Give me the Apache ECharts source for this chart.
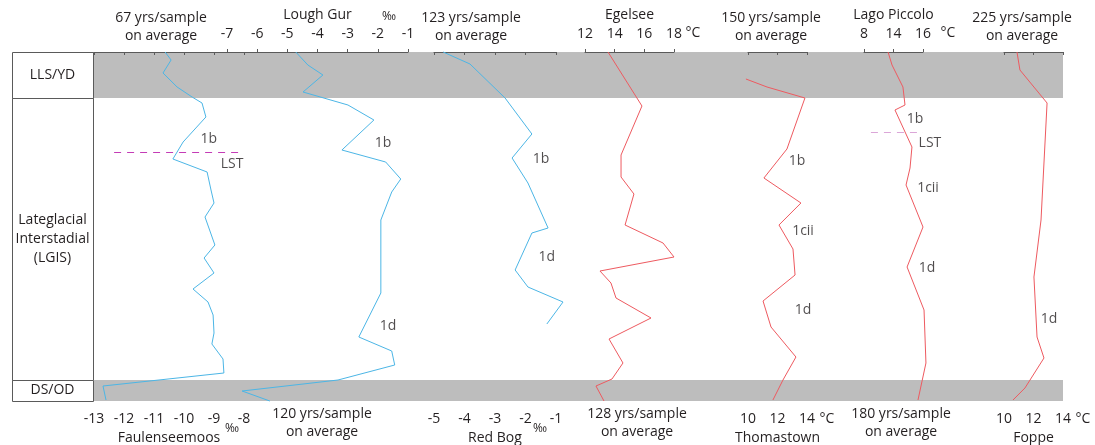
<!DOCTYPE html>
<html>
<head>
<meta charset="utf-8">
<script src="https://cdn.jsdelivr.net/npm/echarts@6/dist/echarts.min.js"></script>
<style>
  html, body { margin: 0; padding: 0; background: #fff; }
  #chart { width: 1095px; height: 445px; }
</style>
</head>
<body>
<div id="chart"></div>
<script>
// Relative depth scale shared by all profiles: 0 = top of LLS/YD, 349 = base of DS/OD
const depthMax = 349;

// Chronozones
const zoneNames = ['LLS/YD', 'Lateglacial\nInterstadial\n(LGIS)', 'DS/OD'];
const zoneFrom = [0, 46, 328];
const zoneTo = [46, 328, 349];
const zoneShaded = [true, false, true];

// Faulenseemoos (‰)
const faulenDepth = [0, 8, 21, 35, 45, 51, 65, 90, 107, 120, 138, 151, 165, 193, 206, 221, 237, 250, 263, 281, 292, 307, 321, 334, 348];
const faulenValue = [-10.63, -10.43, -10.70, -10.23, -9.73, -9.40, -9.27, -10.03, -10.37, -9.23, -9.10, -9.00, -9.30, -8.97, -9.33, -9.00, -9.70, -9.20, -9.03, -9.00, -9.07, -8.70, -8.67, -12.70, -12.60];

// Lough Gur (‰)
const loughDepth = [0, 13, 23, 40, 53, 68, 98, 110, 127, 140, 168, 241, 285, 299, 313, 328, 339, 349];
const loughValue = [-4.72, -4.32, -3.82, -4.48, -2.99, -2.13, -3.19, -1.74, -1.24, -1.54, -1.90, -1.90, -2.63, -1.54, -1.44, -3.32, -6.50, -5.58];

// Red Bog (‰)
const redBogDepth = [0, 12, 46, 82, 106, 131, 176, 181, 218, 235, 250, 272];
const redBogValue = [-4.70, -3.82, -2.67, -1.79, -2.44, -1.92, -1.26, -1.79, -2.34, -1.92, -0.77, -1.30];

// Egelsee (°C)
const egelDepth = [0, 54, 103, 125, 142, 173, 191, 205, 219, 231, 246, 266, 287, 311, 327, 334, 349];
const egelValue = [13.55, 15.84, 14.43, 14.43, 15.30, 14.70, 17.26, 18.00, 13.01, 13.75, 14.09, 16.45, 13.62, 14.56, 13.82, 12.74, 13.28];

// Thomastown (°C)
const thomDepth = [27, 35, 46, 97, 126, 151, 173, 197, 223, 249, 275, 305, 328, 348];
const thomValue = [9.86, 11.29, 13.86, 12.64, 11.08, 13.59, 12.10, 13.05, 13.19, 11.02, 11.56, 13.25, 12.37, 11.69];

// Lago Piccolo (°C)
const lagoDepth = [0, 13, 35, 53, 58, 95, 116, 133, 175, 215, 258, 311, 348];
const lagoValue = [13.63, 13.90, 14.64, 14.78, 14.10, 15.25, 15.12, 14.85, 16.00, 14.92, 16.07, 16.20, 15.66];
const lagoTickLabels = ['8', '14', '16'];

// Foppe (°C)
const foppeDepth = [0, 18, 51, 168, 225, 285, 306, 336, 348];
const foppeValue = [10.88, 11.08, 12.92, 12.51, 12.03, 12.24, 12.71, 11.42, 10.61];

// Zone annotations per profile: [text, value, depth]
const faulenNotes = [['1b', -9.17, 87], ['LST', -8.40, 112]];
const loughNotes = [['1b', -1.83, 91], ['1d', -1.66, 274]];
const redBogNotes = [['1b', -1.49, 107], ['1d', -1.30, 205]];
const thomNotes = [['1b', 13.32, 109], ['1cii', 13.73, 179], ['1d', 13.73, 258]];
const lagoNotes = [['1b', 15.46, 67], ['LST', 16.47, 91], ['1cii', 16.34, 136], ['1d', 16.27, 216]];
const foppeNotes = [['1d', 13.05, 267]];

// Laacher See Tephra horizons: [fromValue, toValue, depth]
const faulenLST = [-12.33, -8.03, 100];
const lagoLST = [12.47, 16.0, 80];

// Sampling resolution captions
const resolutionText = ['67 yrs/sample', '120 yrs/sample', '123 yrs/sample', '128 yrs/sample', '150 yrs/sample', '180 yrs/sample', '225 yrs/sample'];

const BLUE = '#4cb6e6';
const RED = '#ee5a60';
const TEXT = '#231f20';
const AXIS = '#5a5a5a';
const FONT = '"Open Sans", "Noto Sans", sans-serif';

const profiles = [
  { name: 'Faulenseemoos', depth: faulenDepth, value: faulenValue, notes: faulenNotes, lst: faulenLST, lstColor: '#c43cb6',
    color: BLUE, left: 94, width: 150, min: -13, max: -8, interval: 1, pos: 'bottom' },
  { name: 'Lough Gur', depth: loughDepth, value: loughValue, notes: loughNotes,
    color: BLUE, left: 227, width: 181, min: -7, max: -1, interval: 1, pos: 'top' },
  { name: 'Red Bog', depth: redBogDepth, value: redBogValue, notes: redBogNotes,
    color: BLUE, left: 434, width: 122, min: -5, max: -1, interval: 1, pos: 'bottom' },
  { name: 'Egelsee', depth: egelDepth, value: egelValue, notes: [],
    color: RED, left: 585, width: 89, min: 12, max: 18, interval: 2, pos: 'top' },
  { name: 'Thomastown', depth: thomDepth, value: thomValue, notes: thomNotes,
    color: RED, left: 748, width: 59, min: 10, max: 14, interval: 2, pos: 'bottom' },
  { name: 'Lago Piccolo', depth: lagoDepth, value: lagoValue, notes: lagoNotes, lst: lagoLST, lstColor: '#dba6d8',
    color: RED, left: 864, width: 59, min: 12, max: 16, interval: 2, pos: 'top',
    formatter: v => lagoTickLabels[Math.round((v - 12) / 2)] },
  { name: 'Foppe', depth: foppeDepth, value: foppeValue, notes: foppeNotes,
    color: RED, left: 1004, width: 59, min: 10, max: 14, interval: 2, pos: 'bottom' }
];

const PLOT_TOP = 52;
const PLOT_H = 349;

// Fixed-size grid boxes: axis labels must not shrink them
function makeGrid(left, width) {
  return { left: left, width: width, top: PLOT_TOP, height: PLOT_H, containLabel: false, outerBoundsMode: 'none' };
}

const grid = [makeGrid(12, 1051)];
const xAxis = [{ gridIndex: 0, type: 'value', min: 0, max: 1, show: false }];
const yAxis = [{ gridIndex: 0, type: 'value', min: 0, max: depthMax, inverse: true, show: false }];
const series = [];

// Zone boxes on the left and shaded stadial bands
series.push({
  type: 'custom',
  xAxisIndex: 0, yAxisIndex: 0,
  z: 0,
  silent: true,
  data: zoneNames.map((n, i) => [0, zoneFrom[i], zoneTo[i]]),
  renderItem: function (params, api) {
    const i = params.dataIndex;
    const cs = params.coordSys;
    const y0 = api.coord([0, zoneFrom[i]])[1];
    const y1 = api.coord([0, zoneTo[i]])[1];
    const boxW = 81;
    const children = [];
    if (zoneShaded[i]) {
      children.push({ type: 'rect', shape: { x: cs.x + boxW, y: y0, width: cs.width - boxW, height: y1 - y0 },
        style: { fill: '#bdbdbd' } });
    }
    children.push({ type: 'rect', shape: { x: cs.x + 0.5, y: Math.round(y0) + 0.5, width: boxW, height: y1 - y0 },
      style: { fill: 'none', stroke: AXIS, lineWidth: 1 } });
    children.push({ type: 'text', style: { text: zoneNames[i], x: cs.x + boxW / 2, y: (y0 + y1) / 2,
      align: 'center', verticalAlign: 'middle', fontSize: 14, fontFamily: FONT, lineHeight: 19, fill: TEXT } });
    return { type: 'group', children: children };
  }
});

profiles.forEach(p => {
  // Scale grid: carries the visible axis over the labelled range only
  const scaleIdx = grid.length;
  grid.push(makeGrid(p.left, p.width));
  xAxis.push({
    gridIndex: scaleIdx, type: 'value', position: p.pos, min: p.min, max: p.max, interval: p.interval,
    offset: p.pos === 'bottom' ? 3 : 4,
    name: p.name, nameLocation: 'middle', nameGap: p.pos === 'bottom' ? 26 : 25,
    nameTextStyle: { fontSize: 14, fontFamily: FONT, color: TEXT },
    splitLine: { show: false },
    axisLine: { show: true, lineStyle: { color: AXIS, width: 1 } },
    axisTick: { show: true, length: 3, lineStyle: { color: AXIS } },
    axisLabel: { fontSize: 14, fontFamily: FONT, color: TEXT, margin: p.pos === 'bottom' ? 8 : 7, formatter: p.formatter }
  });
  yAxis.push({ gridIndex: scaleIdx, type: 'value', min: 0, max: depthMax, inverse: true, show: false });

  // Data grid: same scale, padded by one tick step so curves may run past the labelled range
  const pxPerUnit = p.width / (p.max - p.min);
  const pad = p.interval;
  const dataIdx = grid.length;
  grid.push(makeGrid(p.left - pad * pxPerUnit, p.width + 2 * pad * pxPerUnit));
  xAxis.push({ gridIndex: dataIdx, type: 'value', min: p.min - pad, max: p.max + pad, show: false });
  yAxis.push({ gridIndex: dataIdx, type: 'value', min: 0, max: depthMax, inverse: true, show: false });

  const line = {
    type: 'line', xAxisIndex: dataIdx, yAxisIndex: dataIdx, z: 3,
    data: p.depth.map((d, i) => [p.value[i], d]),
    showSymbol: false, symbol: 'none', clip: false, silent: true,
    lineStyle: { color: p.color, width: 1 }
  };
  if (p.lst) {
    line.markLine = {
      silent: true, symbol: 'none', label: { show: false },
      lineStyle: { color: p.lstColor, type: [7, 6], width: 1 },
      data: [[{ coord: [p.lst[0], p.lst[2]] }, { coord: [p.lst[1], p.lst[2]] }]]
    };
  }
  series.push(line);

  if (p.notes.length) {
    series.push({
      type: 'scatter', xAxisIndex: dataIdx, yAxisIndex: dataIdx, z: 4, clip: false, silent: true,
      symbolSize: 0,
      data: p.notes.map(n => ({ value: [n[1], n[2]], name: n[0] })),
      label: { show: true, position: 'inside', formatter: '{b}', fontSize: 14, fontFamily: FONT, color: TEXT }
    });
  }
});

// Resolution captions and unit marks
const captionPos = [[161, 'top'], [322, 'bottom'], [471, 'top'], [637, 'bottom'], [771, 'top'], [901, 'bottom'], [1022, 'top']];
const graphic = [];
resolutionText.forEach((t, i) => {
  const top = captionPos[i][1] === 'top';
  graphic.push({
    type: 'text', x: captionPos[i][0], y: top ? 9 : 405,
    style: { text: t + '\non average', align: 'center', fontSize: 14, fontFamily: FONT, lineHeight: 18, fill: TEXT }
  });
});
const units = [['‰', 389, 17, 12], ['‰', 232, 429, 12], ['‰', 540, 429, 12],
  ['°C', 693, 33, 14], ['°C', 827, 419, 14], ['°C', 948, 33, 14], ['°C', 1083, 419, 14]];
units.forEach(u => {
  graphic.push({
    type: 'text', x: u[1], y: u[2],
    style: { text: u[0], align: 'center', verticalAlign: 'middle', fontSize: u[3], fontFamily: FONT, fill: TEXT }
  });
});

const chart = echarts.init(document.getElementById('chart'), null, { renderer: 'canvas' });
chart.setOption({
  animation: false,
  backgroundColor: '#fff',
  grid: grid,
  xAxis: xAxis,
  yAxis: yAxis,
  series: series,
  graphic: graphic
});
</script>
</body>
</html>
